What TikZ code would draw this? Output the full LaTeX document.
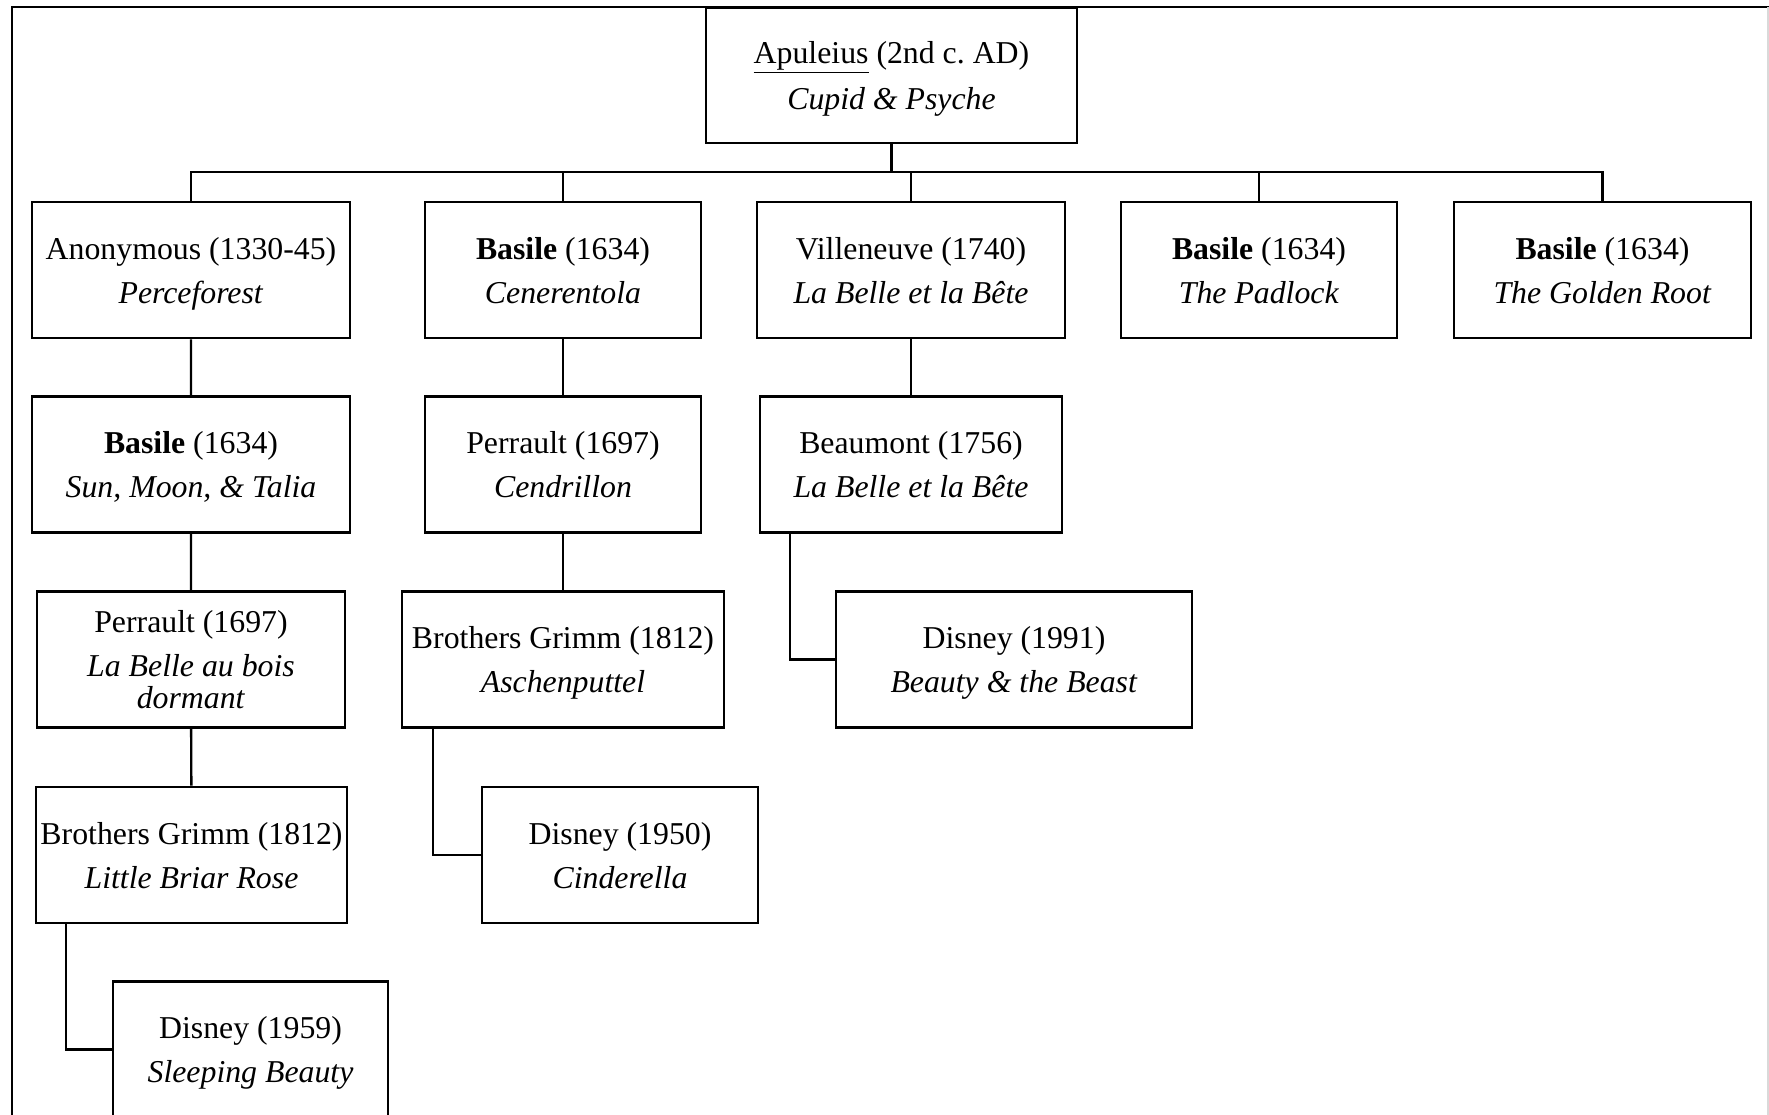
\documentclass[tikz,border=0pt]{standalone}
\usepackage{fontspec}
\setmainfont{Liberation Serif}
\usepackage{tikz}
\usetikzlibrary{positioning}
\tikzset{
  tale/.style={draw, line width=1.3pt, align=center, inner sep=0pt,
    minimum height=68pt, font=\fontsize{15.9}{16}\selectfont},
  link/.style={line width=1.2pt},
  frame line/.style={line width=1pt},
}
% author line, then the title (its descenders do not count)
\newcommand{\tale}[2]{#1\\[6pt]\raisebox{0pt}[\height][0pt]{\textit{#2}}}

\begin{document}
\begin{tikzpicture}[x=0.5pt, y=-0.5pt]
\useasboundingbox (0,0) rectangle (1769,1115);
% outer frame, open at the bottom
\draw [frame line] (12,1130) -- (12,7) -- (1769,7);
\draw [gray!30, line width=0.6pt] (1768,7) -- (1768,1130);

\node [tale, minimum width=185.5pt, minimum height=67.5pt] (apuleius) at (891.5,75.5) {\tale{\underline{Apuleius} (2nd c.\ AD)}{Cupid \& Psyche}};

% first generation
\node [tale, minimum width=159pt] (anon) at (191,270) {\tale{Anonymous (1330-45)}{Perceforest}};
\node [tale, minimum width=138pt] (cener) at (563,270) {\tale{\textbf{Basile} (1634)}{Cenerentola}};
\node [tale, minimum width=154pt] (villen) at (911,270) {\tale{Villeneuve (1740)}{La Belle et la Bête}};
\node [tale, minimum width=138pt] (padlock) at (1259,270) {\tale{\textbf{Basile} (1634)}{The Padlock}};
\node [tale, minimum width=148.5pt] (golden) at (1602.5,270) {\tale{\textbf{Basile} (1634)}{The Golden Root}};

\node [tale, minimum width=159pt] (sunmoon) at (191,464.5) {\tale{\textbf{Basile} (1634)}{Sun, Moon, \& Talia}};
\node [tale, minimum width=138pt] (cendr) at (563,464.5) {\tale{Perrault (1697)}{Cendrillon}};
\node [tale, minimum width=151pt] (beaum) at (911,464.5) {\tale{Beaumont (1756)}{La Belle et la Bête}};

\node [tale, minimum width=154pt] (bois) at (191,659.5) {Perrault (1697)\\[6pt]\textit{La Belle au bois}\\\textit{dormant}};
\node [tale, minimum width=161pt] (aschen) at (563,659.5) {\tale{Brothers Grimm (1812)}{Aschenputtel}};
\node [tale, minimum width=178pt] (disney91) at (1014,659.5) {\tale{Disney (1991)}{Beauty \& the Beast}};

\node [tale, minimum width=155.5pt] (briar) at (191.5,855) {\tale{Brothers Grimm (1812)}{Little Briar Rose}};
\node [tale, minimum width=138pt] (disney50) at (620,855) {\tale{Disney (1950)}{Cinderella}};

\node [tale, minimum width=137.5pt] (disney59) at (250.5,1049.5) {\tale{Disney (1959)}{Sleeping Beauty}};

% connectors
\coordinate (bus) at (0,172);
\draw [link] (apuleius.south) -- (apuleius.south |- bus);
\draw [link] (anon.north) -- (anon.north |- bus) -| (golden.north);
\draw [link] (cener.north) -- (cener.north |- bus);
\draw [link] (villen.north) -- (villen.north |- bus);
\draw [link] (padlock.north) -- (padlock.north |- bus);

\draw [link] (anon) -- (sunmoon) -- (bois) -- (briar);
\draw [link] (cener) -- (cendr) -- (aschen);
\draw [link] (villen) -- (beaum);

\draw [link] ([xshift=15.5pt]briar.south west) |- (disney59.west);
\draw [link] ([xshift=16pt]aschen.south west) |- (disney50.west);
\draw [link] ([xshift=15.5pt]beaum.south west) |- (disney91.west);
\end{tikzpicture}
\end{document}
